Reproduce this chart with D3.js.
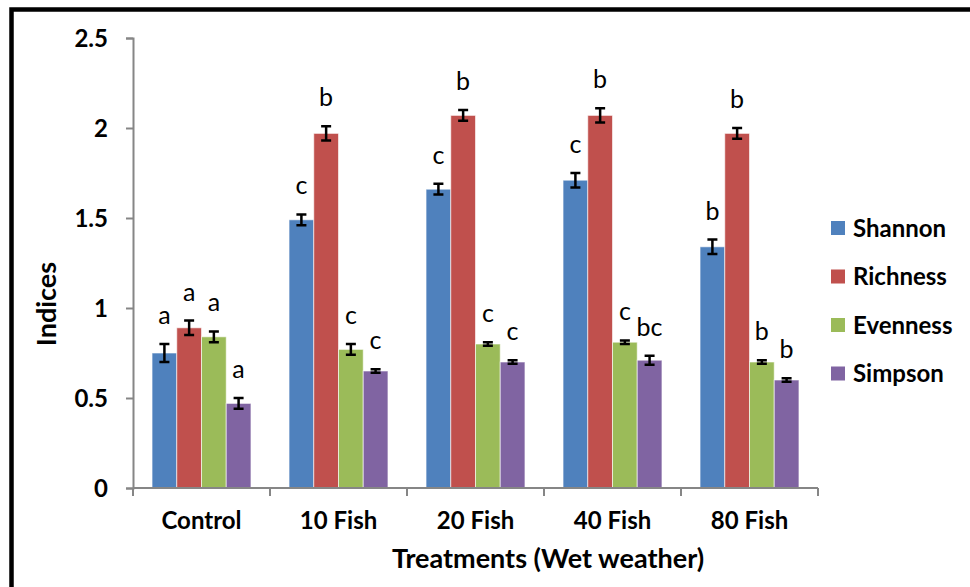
<!DOCTYPE html>
<html lang="en">
<head>
    <meta charset="UTF-8">
    <title>Indices by treatment (wet weather)</title>
    <script src="https://d3js.org/d3.v7.min.js"></script>
    <style>
        body { margin: 0; background: #fff; }
        text { font-family: Lato, "Open Sans", sans-serif; }
        .axis path, .axis line { stroke: #868686; stroke-width: 2; }
        .axis text { font-weight: bold; font-size: 24px; fill: #000; }
    </style>
</head>
<body>
    <svg width="970" height="587"></svg>

    <script>
        // Data
        const treatments = ["Control", "10 Fish", "20 Fish", "40 Fish", "80 Fish"];
        const seriesNames = ["Shannon", "Richness", "Evenness", "Simpson"];
        const colors = ["#4f81bd", "#c0504d", "#9bbb59", "#8064a2"];

        const shannon  = [0.75, 1.49, 1.66, 1.71, 1.34];
        const richness = [0.89, 1.97, 2.07, 2.07, 1.97];
        const evenness = [0.84, 0.77, 0.80, 0.81, 0.70];
        const simpson  = [0.47, 0.65, 0.70, 0.71, 0.60];

        const shannonErr  = [0.05, 0.03, 0.03, 0.04, 0.04];
        const richnessErr = [0.04, 0.04, 0.03, 0.04, 0.03];
        const evennessErr = [0.03, 0.03, 0.01, 0.01, 0.01];
        const simpsonErr  = [0.03, 0.01, 0.01, 0.025, 0.01];

        const shannonLetters  = ["a", "c", "c", "c", "b"];
        const richnessLetters = ["a", "b", "b", "b", "b"];
        const evennessLetters = ["a", "c", "c", "c", "b"];
        const simpsonLetters  = ["a", "c", "c", "bc", "b"];

        const yTicks = [0, 0.5, 1, 1.5, 2, 2.5];

        const values = [shannon, richness, evenness, simpson];
        const errors = [shannonErr, richnessErr, evennessErr, simpsonErr];
        const letters = [shannonLetters, richnessLetters, evennessLetters, simpsonLetters];

        // flatten into one record per bar
        const data = [];
        treatments.forEach((t, i) => {
            seriesNames.forEach((s, j) => {
                data.push({ treatment: t, series: s, value: values[j][i], err: errors[j][i], letter: letters[j][i], color: colors[j] });
            });
        });

        const margin = { top: 38, left: 133 };
        const width = 685, height = 450;

        const svg = d3.select("svg");

        // outer frame (left and top only)
        svg.append("path")
            .attr("d", "M11.5,587 V9.5 H970")
            .attr("fill", "none")
            .attr("stroke", "#000")
            .attr("stroke-width", 4.5);

        const g = svg.append("g")
            .attr("transform", "translate(" + margin.left + "," + margin.top + ")");

        const x = d3.scaleBand().domain(treatments).range([0, width]).paddingInner(0).paddingOuter(0);
        const xInner = d3.scaleBand().domain(seriesNames)
            .range([x.bandwidth() * 0.139, x.bandwidth() * 0.861]);
        const y = d3.scaleLinear().domain([0, 2.5]).range([height, 0]);

        // y axis
        const yAxis = g.append("g").attr("class", "axis")
            .call(d3.axisLeft(y).tickValues(yTicks).tickSize(7).tickPadding(18).tickFormat(d3.format("")));
        yAxis.selectAll("text").attr("dy", "0.35em");

        // bars
        const groups = g.selectAll(".grp")
            .data(data)
            .enter().append("g")
            .attr("transform", d => "translate(" + (x(d.treatment) + xInner(d.series)) + ",0)");

        groups.append("rect")
            .attr("x", 0)
            .attr("y", d => y(d.value))
            .attr("width", xInner.bandwidth())
            .attr("height", d => height - y(d.value))
            .attr("fill", d => d.color)
            .attr("stroke", "rgba(255,255,255,0.6)")
            .attr("stroke-width", 1);

        // error bars
        const bw = xInner.bandwidth();
        const cap = 5;
        groups.append("path")
            .attr("d", d => {
                const cx = bw / 2, y1 = y(d.value + d.err), y2 = y(d.value - d.err);
                return "M" + cx + "," + y1 + "V" + y2 +
                    "M" + (cx - cap) + "," + y1 + "H" + (cx + cap) +
                    "M" + (cx - cap) + "," + y2 + "H" + (cx + cap);
            })
            .attr("stroke", "#000")
            .attr("stroke-width", 2.5)
            .attr("fill", "none");

        // significance letters
        groups.append("text")
            .attr("x", bw / 2)
            .attr("y", d => y(d.value + d.err) - 20)
            .attr("text-anchor", "middle")
            .attr("font-size", 25)
            .text(d => d.letter);

        // x axis
        const xAxis = g.append("g").attr("class", "axis")
            .attr("transform", "translate(0," + height + ")")
            .call(d3.axisBottom(x).tickSize(0).tickPadding(24));
        xAxis.select(".domain").attr("d", "M0,0H" + width);
        // category separators
        xAxis.selectAll(".sep")
            .data(d3.range(treatments.length + 1))
            .enter().append("line")
            .attr("x1", i => i * x.step()).attr("x2", i => i * x.step())
            .attr("y1", 0).attr("y2", 8)
            .attr("stroke", "#868686").attr("stroke-width", 2);

        // axis titles
        svg.append("text")
            .attr("transform", "translate(56,304) rotate(-90)")
            .attr("text-anchor", "middle")
            .attr("font-weight", "bold")
            .attr("font-size", 27)
            .text("Indices");

        svg.append("text")
            .attr("x", 548)
            .attr("y", 568)
            .attr("text-anchor", "middle")
            .attr("font-weight", "bold")
            .attr("font-size", 27)
            .text("Treatments (Wet weather)");

        // legend
        const legend = svg.append("g").attr("transform", "translate(831,221)");
        seriesNames.forEach((s, i) => {
            const row = legend.append("g").attr("transform", "translate(0," + (i * 48.5) + ")");
            row.append("rect").attr("width", 14).attr("height", 14).attr("fill", colors[i]);
            row.append("text")
                .attr("x", 22).attr("y", 7).attr("dy", "0.36em")
                .attr("font-weight", "bold").attr("font-size", 24)
                .text(s);
        });
    </script>
</body>
</html>
